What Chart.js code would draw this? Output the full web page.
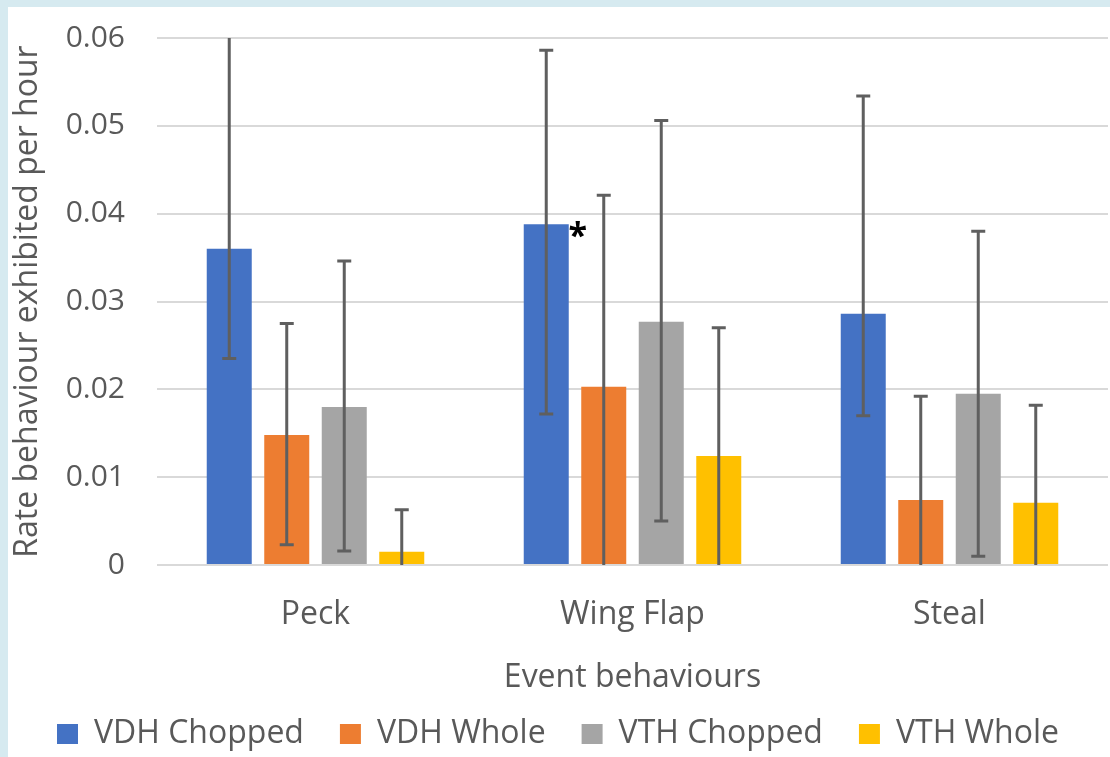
<!DOCTYPE html>
<html>
<head>
<meta charset="utf-8">
<script src="https://cdn.jsdelivr.net/npm/chart.js@4"></script>
<style>
  html, body { margin: 0; padding: 0; background: #d6eaf0; overflow: hidden; }
  #wrap { position: absolute; left: 8px; top: 7px; width: 1102px; height: 750px; background: #fff; }
</style>
</head>
<body>
<div id="wrap"><canvas id="behaviourChart"></canvas></div>
<script>
const categories = ['Peck', 'Wing Flap', 'Steal'];
const seriesNames = ['VDH Chopped', 'VDH Whole', 'VTH Chopped', 'VTH Whole'];
const seriesColors = ['#4472C4', '#ED7D31', '#A5A5A5', '#FFC000'];

// bar heights
const vdhChopped = [0.0360, 0.0388, 0.0286];
const vdhWhole   = [0.0148, 0.0203, 0.0074];
const vthChopped = [0.0180, 0.0277, 0.0195];
const vthWhole   = [0.0015, 0.0124, 0.0071];

// error bar ends (low / high)
const vdhChoppedLow  = [0.0235, 0.0172, 0.0170];
const vdhChoppedHigh = [0.0650, 0.0586, 0.0534];
const vdhWholeLow    = [0.0023, -0.0015, -0.0044];
const vdhWholeHigh   = [0.0275, 0.0421, 0.0192];
const vthChoppedLow  = [0.0016, 0.0050, 0.0010];
const vthChoppedHigh = [0.0346, 0.0506, 0.0380];
const vthWholeLow    = [-0.0033, -0.0022, -0.0040];
const vthWholeHigh   = [0.0063, 0.0270, 0.0182];

const seriesValues = [vdhChopped, vdhWhole, vthChopped, vthWhole];
const seriesLow = [vdhChoppedLow, vdhWholeLow, vthChoppedLow, vthWholeLow];
const seriesHigh = [vdhChoppedHigh, vdhWholeHigh, vthChoppedHigh, vthWholeHigh];

const textColor = '#595959';
const fontFamily = '"Open Sans", sans-serif';

// error bars, clipped to the plot area
const errorBars = {
    id: 'errorBars',
    afterDatasetsDraw(chart) {
        const ctx = chart.ctx;
        const yScale = chart.scales.y;
        const area = chart.chartArea;
        ctx.save();
        ctx.strokeStyle = '#5f5f5f';
        ctx.lineWidth = 3;
        chart.data.datasets.forEach((ds, di) => {
            const meta = chart.getDatasetMeta(di);
            meta.data.forEach((bar, i) => {
                const yHi = yScale.getPixelForValue(ds.errHigh[i]);
                const yLo = yScale.getPixelForValue(ds.errLow[i]);
                const top = Math.max(yHi, area.top);
                const bottom = Math.min(yLo, area.bottom);
                ctx.beginPath();
                ctx.moveTo(bar.x, top);
                ctx.lineTo(bar.x, bottom);
                if (yHi >= area.top) {
                    ctx.moveTo(bar.x - 7, yHi);
                    ctx.lineTo(bar.x + 7, yHi);
                }
                if (yLo <= area.bottom - 1) {
                    ctx.moveTo(bar.x - 7, yLo);
                    ctx.lineTo(bar.x + 7, yLo);
                }
                ctx.stroke();
            });
        });
        // significance marker on Wing Flap / VDH Chopped
        const bar = chart.getDatasetMeta(0).data[1];
        ctx.fillStyle = '#000';
        ctx.font = 'bold 34px ' + fontFamily;
        ctx.textAlign = 'center';
        ctx.textBaseline = 'middle';
        ctx.fillText('*', bar.x + bar.width / 2 + 9, bar.y + 13);
        ctx.restore();
    }
};

const ctx = document.getElementById('behaviourChart').getContext('2d');

new Chart(ctx, {
    type: 'bar',
    data: {
        labels: categories,
        datasets: seriesNames.map((name, i) => ({
            label: name,
            data: seriesValues[i],
            errLow: seriesLow[i],
            errHigh: seriesHigh[i],
            backgroundColor: seriesColors[i],
            borderWidth: 0,
            categoryPercentage: 0.7256,
            barPercentage: 0.7826
        }))
    },
    options: {
        responsive: true,
        maintainAspectRatio: false,
        animation: false,
        layout: {
            padding: { top: 31, right: 2, left: 0, bottom: -3 }
        },
        scales: {
            x: {
                grid: { display: false },
                border: { display: false },
                ticks: {
                    color: textColor,
                    font: { family: fontFamily, size: 32 },
                    padding: 23
                },
                title: {
                    display: true,
                    text: 'Event behaviours',
                    color: textColor,
                    font: { family: fontFamily, size: 32 },
                    padding: { top: 0, bottom: -15 }
                },
                afterFit(scale) { scale.height = 117; }
            },
            y: {
                min: 0,
                max: 0.06,
                grid: {
                    color: '#d9d9d9',
                    lineWidth: 2,
                    drawTicks: false
                },
                border: { display: false },
                ticks: {
                    stepSize: 0.01,
                    color: textColor,
                    padding: 32,
                    font: { family: fontFamily, size: 30 },
                    callback: (v) => v === 0 ? '0' : v.toFixed(2)
                },
                title: {
                    display: true,
                    text: 'Rate behaviour exhibited per hour',
                    color: textColor,
                    font: { family: fontFamily, size: 32 },
                    padding: { top: 1, bottom: 0 }
                },
                afterFit(scale) {
                    scale.width = 149;
                    // labels may overhang the plot; don't push the plot down for them
                    scale.paddingTop = 0;
                    scale.paddingBottom = 0;
                }
            }
        },
        plugins: {
            legend: {
                display: true,
                position: 'bottom',
                labels: {
                    color: textColor,
                    boxWidth: 21,
                    boxHeight: 20,
                    padding: 36,
                    font: { family: fontFamily, size: 32 }
                }
            },
            tooltip: { enabled: false }
        }
    },
    plugins: [errorBars]
});
</script>
</body>
</html>
